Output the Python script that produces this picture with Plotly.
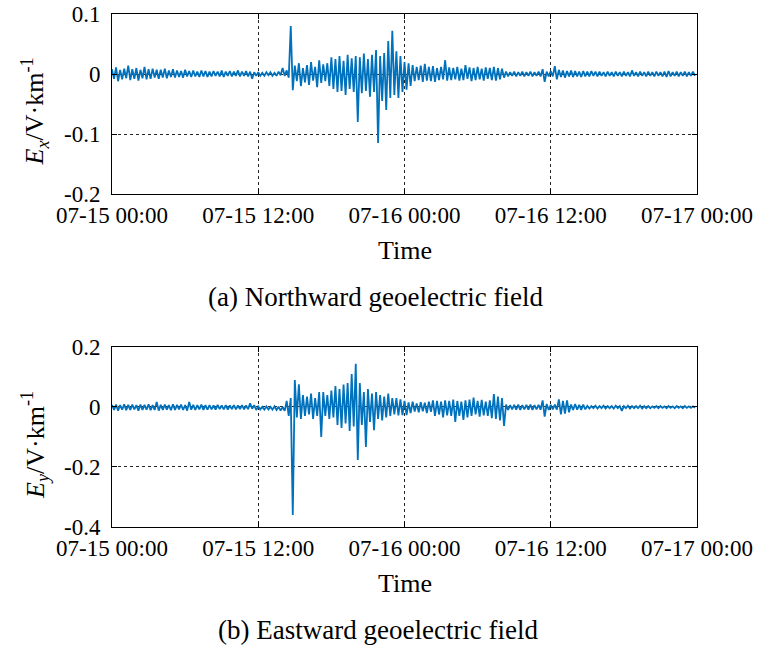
import pandas as pd
import plotly.graph_objects as go

# 20-minute bins over 48 h (07-15 00:00 .. 07-17 00:00); each row = 4 hours
# per-bin upper (hi) and lower (lo) excursions, V/km
ex_hi = [
    0.008, 0.011, 0.007, 0.009, 0.014, 0.008, 0.010, 0.007, 0.012, 0.008, 0.009, 0.007,
    0.007, 0.009, 0.006, 0.008, 0.006, 0.005, 0.007, 0.005, 0.006, 0.004, 0.006, 0.005,
    0.004, 0.005, 0.004, 0.006, 0.004, 0.005, 0.004, 0.006, 0.004, 0.005, 0.004, 0.003,
    0.003, 0.002, 0.003, 0.003, 0.002, 0.004, 0.010, 0.006, 0.080, 0.014, 0.018, 0.010,
    0.015, 0.020, 0.012, 0.023, 0.016, 0.018, 0.028, 0.025, 0.030, 0.022, 0.032, 0.026,
    0.030, 0.028, 0.034, 0.025, 0.032, 0.040, 0.030, 0.035, 0.055, 0.072, 0.038, 0.030,
    0.020, 0.018, 0.015, 0.012, 0.014, 0.017, 0.012, 0.013, 0.010, 0.012, 0.023, 0.011,
    0.010, 0.012, 0.009, 0.015, 0.011, 0.010, 0.012, 0.009, 0.011, 0.010, 0.012, 0.010,
    0.009, 0.004, 0.003, 0.004, 0.003, 0.004, 0.003, 0.004, 0.003, 0.004, 0.008, 0.004,
    0.005, 0.013, 0.007, 0.006, 0.005, 0.006, 0.005, 0.004, 0.005, 0.004, 0.005, 0.004,
    0.004, 0.003, 0.004, 0.003, 0.004, 0.003, 0.004, 0.003, 0.006, 0.003, 0.004, 0.003,
    0.004, 0.003, 0.004, 0.003, 0.004, 0.005, 0.003, 0.004, 0.003, 0.004, 0.003, 0.004,
]
ex_lo = [
    -0.008, -0.012, -0.009, -0.007, -0.010, -0.008, -0.011, -0.007, -0.009, -0.008, -0.006, -0.008,
    -0.006, -0.007, -0.005, -0.006, -0.005, -0.006, -0.004, -0.005, -0.004, -0.005, -0.004, -0.005,
    -0.004, -0.003, -0.004, -0.005, -0.003, -0.004, -0.003, -0.004, -0.003, -0.004, -0.008, -0.003,
    -0.003, -0.003, -0.002, -0.003, -0.003, -0.002, -0.003, -0.006, -0.027, -0.012, -0.020, -0.014,
    -0.018, -0.011, -0.022, -0.015, -0.012, -0.020, -0.025, -0.030, -0.028, -0.035, -0.025, -0.030,
    -0.080, -0.032, -0.028, -0.038, -0.030, -0.115, -0.045, -0.060, -0.040, -0.035, -0.040, -0.030,
    -0.026, -0.020, -0.012, -0.010, -0.013, -0.011, -0.012, -0.013, -0.010, -0.009, -0.011, -0.010,
    -0.009, -0.011, -0.010, -0.008, -0.012, -0.010, -0.009, -0.011, -0.008, -0.010, -0.011, -0.009,
    -0.006, -0.004, -0.003, -0.004, -0.003, -0.004, -0.003, -0.004, -0.003, -0.004, -0.013, -0.004,
    -0.004, -0.009, -0.005, -0.006, -0.004, -0.005, -0.004, -0.005, -0.004, -0.004, -0.003, -0.004,
    -0.003, -0.004, -0.003, -0.004, -0.003, -0.004, -0.003, -0.004, -0.003, -0.004, -0.003, -0.004,
    -0.003, -0.004, -0.003, -0.004, -0.005, -0.004, -0.003, -0.004, -0.003, -0.004, -0.003, -0.003,
]
ey_hi = [
    0.007, 0.008, 0.006, 0.009, 0.007, 0.008, 0.006, 0.008, 0.007, 0.009, 0.006, 0.017,
    0.007, 0.008, 0.006, 0.009, 0.007, 0.008, 0.006, 0.017, 0.007, 0.006, 0.008, 0.006,
    0.006, 0.005, 0.007, 0.005, 0.006, 0.005, 0.006, 0.005, 0.006, 0.005, 0.012, 0.006,
    0.002, 0.001, 0.002, 0.001, 0.002, 0.001, 0.000, 0.020, 0.030, 0.090, 0.076, 0.040,
    0.035, 0.045, 0.030, 0.050, 0.050, 0.040, 0.055, 0.070, 0.060, 0.075, 0.080, 0.110,
    0.144, 0.080, 0.050, 0.060, 0.045, 0.050, 0.040, 0.035, 0.045, 0.030, 0.030, 0.025,
    0.020, 0.015, 0.018, 0.012, 0.016, 0.014, 0.018, 0.022, 0.020, 0.018, 0.022, 0.020,
    0.025, 0.020, 0.018, 0.022, 0.025, 0.031, 0.020, 0.024, 0.018, 0.022, 0.043, 0.035,
    0.030, 0.008, 0.006, 0.007, 0.008, 0.006, 0.007, 0.008, 0.006, 0.007, 0.022, 0.010,
    0.007, 0.008, 0.025, 0.020, 0.022, 0.008, 0.010, 0.007, 0.008, 0.004, 0.003, 0.004,
    0.003, 0.004, 0.003, 0.003, 0.004, 0.003, 0.003, 0.004, 0.003, 0.003, 0.004, 0.003,
    0.003, 0.002, 0.003, 0.003, 0.002, 0.003, 0.002, 0.003, 0.002, 0.003, 0.002, 0.002,
]
ey_lo = [
    -0.010, -0.012, -0.009, -0.011, -0.010, -0.008, -0.012, -0.010, -0.009, -0.011, -0.010, -0.012,
    -0.010, -0.009, -0.011, -0.010, -0.008, -0.010, -0.012, -0.009, -0.010, -0.008, -0.010, -0.009,
    -0.008, -0.009, -0.007, -0.008, -0.009, -0.007, -0.008, -0.007, -0.008, -0.007, -0.006, -0.010,
    -0.008, -0.009, -0.008, -0.009, -0.010, -0.012, -0.013, -0.030, -0.360, -0.035, -0.040, -0.030,
    -0.025, -0.040, -0.030, -0.100, -0.030, -0.040, -0.035, -0.060, -0.070, -0.055, -0.080, -0.065,
    -0.177, -0.060, -0.133, -0.050, -0.077, -0.040, -0.045, -0.035, -0.030, -0.025, -0.028, -0.027,
    -0.027, -0.020, -0.015, -0.018, -0.014, -0.020, -0.016, -0.030, -0.025, -0.035, -0.028, -0.030,
    -0.050, -0.030, -0.043, -0.035, -0.030, -0.025, -0.032, -0.028, -0.030, -0.037, -0.040, -0.045,
    -0.063, -0.010, -0.008, -0.009, -0.010, -0.008, -0.009, -0.010, -0.008, -0.009, -0.032, -0.010,
    -0.008, -0.009, -0.025, -0.022, -0.018, -0.010, -0.009, -0.010, -0.008, -0.005, -0.004, -0.005,
    -0.004, -0.005, -0.004, -0.005, -0.004, -0.013, -0.004, -0.005, -0.004, -0.004, -0.005, -0.004,
    -0.004, -0.003, -0.004, -0.003, -0.004, -0.003, -0.004, -0.003, -0.004, -0.003, -0.003, -0.003,
]

x_tickvals = ["2015-07-15 00:00", "2015-07-15 12:00", "2015-07-16 00:00", "2015-07-16 12:00", "2015-07-17 00:00"]
x_ticktext = ["07-15 00:00", "07-15 12:00", "07-16 00:00", "07-16 12:00", "07-17 00:00"]
ex_ticks = [-0.2, -0.1, 0, 0.1]
ex_ticktext = ["-0.2", "-0.1", "0", "0.1"]
ey_ticks = [-0.4, -0.2, 0, 0.2]
ey_ticktext = ["-0.4", "-0.2", "0", "0.2"]

start = pd.Timestamp("2015-07-15 00:00")
bin_len = pd.Timedelta(minutes=20)


def zigzag(hi, lo):
    xs, ys = [], []
    for i, (h, l) in enumerate(zip(hi, lo)):
        t0 = start + i * bin_len
        xs.append(t0)
        ys.append(h)
        xs.append(t0 + bin_len / 2)
        ys.append(l)
    return xs, ys


BLUE = "#0072BD"
FONT = "'Liberation Serif', 'Times New Roman', Times, serif"
FS_TICK = 23
FS_LABEL = 26
FS_CAP = 27

fig = go.Figure()
x1, y1 = zigzag(ex_hi, ex_lo)
x2, y2 = zigzag(ey_hi, ey_lo)
fig.add_trace(go.Scatter(x=x1, y=y1, mode="lines", line=dict(color=BLUE, width=1.8), xaxis="x", yaxis="y", showlegend=False))
fig.add_trace(go.Scatter(x=x2, y=y2, mode="lines", line=dict(color=BLUE, width=1.8), xaxis="x2", yaxis="y2", showlegend=False))

tickfont = dict(family=FONT, size=FS_TICK, color="black")
common_x = dict(
    type="date", range=["2015-07-15 00:00", "2015-07-17 00:00"],
    tickvals=x_tickvals, ticktext=x_ticktext,
    showline=True, linecolor="black", linewidth=1, mirror="ticks",
    ticks="inside", ticklen=5, tickcolor="black",
    showgrid=True, gridcolor="rgba(0,0,0,0.85)", griddash="dot", gridwidth=1,
    zeroline=False, tickfont=tickfont, automargin=False,
    ticklabelstandoff=0,
)
common_y = dict(
    showline=True, linecolor="black", linewidth=1, mirror="ticks",
    ticks="inside", ticklen=5, tickcolor="black",
    showgrid=True, gridcolor="rgba(0,0,0,0.85)", griddash="dot", gridwidth=1,
    zeroline=False, tickfont=tickfont, automargin=False,
    ticklabelstandoff=6,
)

fig.update_layout(
    width=758, height=649,
    margin=dict(l=112, r=61, t=14, b=122),
    paper_bgcolor="white", plot_bgcolor="white",
    xaxis=dict(domain=[0, 1], anchor="y", **common_x),
    yaxis=dict(domain=[0.649, 1], anchor="x", range=[-0.2, 0.1], tickvals=ex_ticks, ticktext=ex_ticktext, **common_y),
    xaxis2=dict(domain=[0, 1], anchor="y2", **common_x),
    yaxis2=dict(domain=[0, 0.3509], anchor="x2", range=[-0.4, 0.2], tickvals=ey_ticks, ticktext=ey_ticktext, **common_y),
    font=dict(family=FONT, size=FS_TICK, color="black"),
)


def ann(size):
    return dict(xref="paper", yref="paper", showarrow=False, font=dict(family=FONT, size=size, color="black"))


fig.add_annotation(text="Time", x=0.5, y=0.539, xanchor="center", yanchor="middle", **ann(FS_LABEL))
fig.add_annotation(text="(a) Northward geoelectric field", x=0.452, y=0.448, xanchor="center", yanchor="middle", **ann(FS_CAP))
fig.add_annotation(text="Time", x=0.5, y=-0.110, xanchor="center", yanchor="middle", **ann(FS_LABEL))
fig.add_annotation(text="(b) Eastward geoelectric field", x=0.455, y=-0.2008, xanchor="center", yanchor="middle", **ann(FS_CAP))
fig.add_annotation(text="<i>E</i><sub><i>x</i></sub>/V·km<sup>-1</sup>", x=-0.1316, y=0.81, textangle=-90,
                   xanchor="center", yanchor="middle", **ann(FS_LABEL))
fig.add_annotation(text="<i>E</i><sub><i>y</i></sub>/V·km<sup>-1</sup>", x=-0.1316, y=0.16, textangle=-90,
                   xanchor="center", yanchor="middle", **ann(FS_LABEL))

fig.write_html("out.html")
